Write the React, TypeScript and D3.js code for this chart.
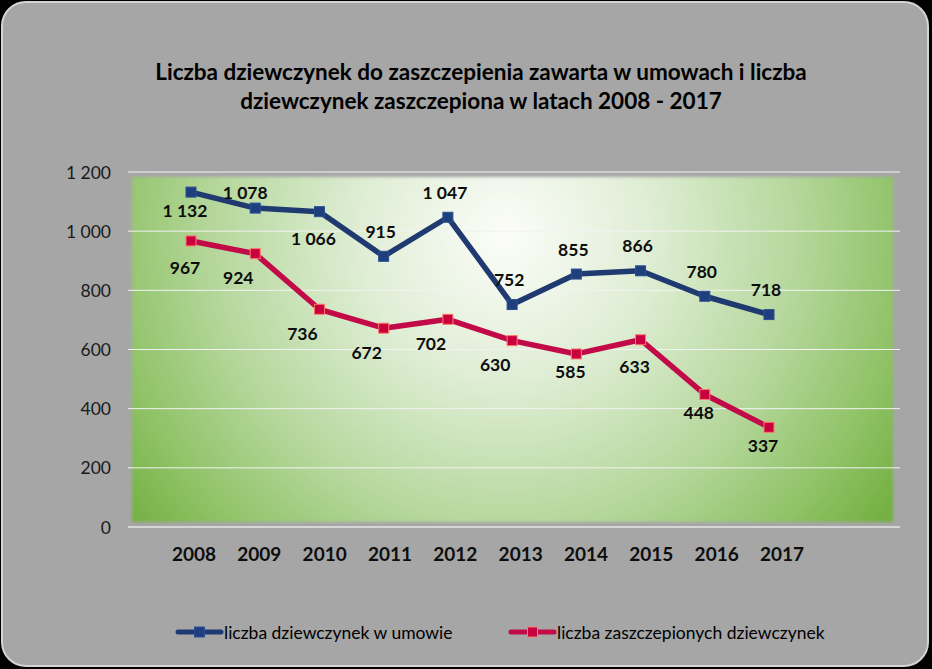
import React from "react";
import * as d3 from "d3";

const years = ["2008", "2009", "2010", "2011", "2012", "2013", "2014", "2015", "2016", "2017"];
const contracted = [1132, 1078, 1066, 915, 1047, 752, 855, 866, 780, 718];
const vaccinated = [967, 924, 736, 672, 702, 630, 585, 633, 448, 337];
const yTicks = [0, 200, 400, 600, 800, 1000, 1200];
const seriesNames = ["liczba dziewczynek w umowie", "liczba zaszczepionych dziewczynek"];
const titleLines = [
  "Liczba dziewczynek do zaszczepienia zawarta w umowach i liczba",
  "dziewczynek zaszczepiona w latach 2008 - 2017",
];

// label placement keywords (Excel-like), one per point
const contractedPlacement = ["nearBelow", "aboveLeft", "below", "above", "above", "above", "above", "above", "above", "above"];
const vaccinatedPlacement = ["below", "belowLeft", "belowLeft", "belowLeft", "belowLeft", "belowLeft", "nearBelow", "below", "nearBelow", "nearBelow"];

const PLACE: Record<string, [number, number]> = {
  above: [-3, -25],
  below: [-6, 27],
  belowLeft: [-17, 24],
  aboveLeft: [-10, -16],
  nearBelow: [-6, 18],
};

const W = 932;
const H = 669;
const FONT = "Lato, 'Open Sans', sans-serif";
const fmt = (v: number) => d3.format(",")(v).replace(/,/g, " ");

export default function App() {
  const x = d3.scalePoint<string>().domain(years).range([191, 769]);
  const xLabel = d3.scalePoint<string>().domain(years).range([194, 782]);
  const y = d3.scaleLinear().domain([0, 1200]).range([527, 172]);
  const gridX0 = 128;
  const gridX1 = 900;
  const plot = { x0: 132, x1: 893, y0: 177, y1: 522 };

  const line = d3
    .line<number>()
    .x((_, i) => x(years[i]) as number)
    .y((d) => y(d));

  const series = [
    { values: contracted, color: "#1f3a70", marker: "#1f3f7c", markerStroke: "#2a4f94", place: contractedPlacement },
    { values: vaccinated, color: "#c20a48", marker: "#c8003e", markerStroke: "#ff7a6a", place: vaccinatedPlacement },
  ];

  const ms = 10;

  return (
    <div style={{ position: "absolute", left: 0, top: 0, width: W, height: H }}>
      <svg width={W} height={H} style={{ display: "block" }}>
        <defs>
          <radialGradient id="plotGrad" gradientUnits="userSpaceOnUse" cx={505} cy={235} r={470} fx={505} fy={235}>
            <stop offset="0" stopColor="#fcfdf9" />
            <stop offset="0.3" stopColor="#e0eed6" />
            <stop offset="0.62" stopColor="#b5d79c" />
            <stop offset="0.85" stopColor="#8fc266" />
            <stop offset="1" stopColor="#74b143" />
          </radialGradient>
          <filter id="soft" x="-5%" y="-5%" width="110%" height="110%">
            <feGaussianBlur stdDeviation="1.5" />
          </filter>
        </defs>
        <rect x={0} y={0} width={W} height={H} fill="#000" />
        <rect x={2} y={2} width={W - 6} height={H - 5} rx={24} ry={24} fill="#a6a6a6" stroke="#d4d4d4" strokeWidth={2} />

        {titleLines.map((t, i) => (
          <text key={i} x={481} y={80 + i * 29} textAnchor="middle" fontFamily={FONT} fontWeight={700} fontSize={22.5} fill="#000">
            {t}
          </text>
        ))}

        <rect x={plot.x0} y={plot.y0} width={plot.x1 - plot.x0} height={plot.y1 - plot.y0} fill="url(#plotGrad)" filter="url(#soft)" />

        {yTicks.map((t) => (
          <g key={t}>
            <line x1={gridX0} x2={gridX1} y1={y(t)} y2={y(t)} stroke={t === 0 ? "#e6e6e6" : "#f2f2f2"} strokeWidth={t === 0 ? 1.5 : 1} />
            <text x={111} y={y(t)} textAnchor="end" dominantBaseline="central" fontFamily={FONT} fontSize={17.5} fill="#1a1a1a">
              {fmt(t)}
            </text>
          </g>
        ))}

        {years.map((yr) => (
          <text key={yr} x={xLabel(yr)} y={553} textAnchor="middle" dominantBaseline="central" fontFamily={FONT} fontWeight={700} fontSize={19} fill="#0d0d0d">
            {yr}
          </text>
        ))}

        {series.map((s, si) => (
          <g key={si}>
            <path d={line(s.values) || ""} fill="none" stroke={s.color} strokeWidth={5.5} strokeLinejoin="round" />
            {s.values.map((v, i) => (
              <rect
                key={i}
                x={(x(years[i]) as number) - ms / 2}
                y={y(v) - ms / 2}
                width={ms}
                height={ms}
                fill={s.marker}
                stroke={s.markerStroke}
                strokeWidth={1}
              />
            ))}
            {s.values.map((v, i) => {
              const [dx, dy] = PLACE[s.place[i]];
              return (
                <text
                  key={"l" + i}
                  x={(x(years[i]) as number) + dx}
                  y={y(v) + dy}
                  textAnchor="middle"
                  dominantBaseline="central"
                  fontFamily={FONT}
                  fontWeight={700}
                  fontSize={17.5}
                  fill="#0d0d0d"
                >
                  {fmt(v)}
                </text>
              );
            })}
          </g>
        ))}

        {series.map((s, si) => {
          const lx = si === 0 ? 178 : 511;
          const cy = 632;
          return (
            <g key={"lg" + si}>
              <line x1={lx} x2={lx + 43} y1={cy} y2={cy} stroke={s.color} strokeWidth={5} strokeLinecap="round" />
              <rect x={lx + 21.5 - ms / 2} y={cy - ms / 2} width={ms} height={ms} fill={s.marker} stroke={s.markerStroke} strokeWidth={1} />
              <text x={lx + 46} y={cy} dominantBaseline="central" fontFamily={FONT} fontSize={17.5} fill="#000">
                {seriesNames[si]}
              </text>
            </g>
          );
        })}
      </svg>
    </div>
  );
}
